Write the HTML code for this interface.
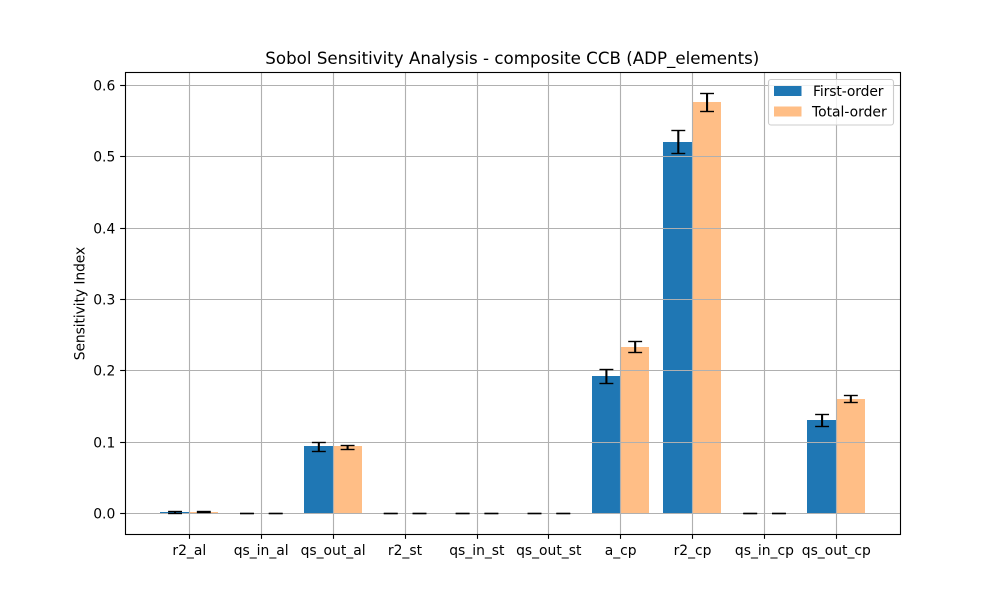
<!DOCTYPE html>
<html><head><meta charset="utf-8"><title>Sobol Sensitivity Analysis</title>
<style>
html,body{margin:0;padding:0;background:#fff;width:1000px;height:600px;overflow:hidden}
svg{display:block}
text{font-family:"DejaVu Sans",sans-serif;fill:#000}
</style></head>
<body>
<svg id="chart" width="1000" height="600" viewBox="0 0 1000 600" xmlns="http://www.w3.org/2000/svg">
<rect x="0" y="0" width="1000" height="600" fill="#fff"/>
<text x="512.3" y="64" font-size="16.67" text-anchor="middle" textLength="494" lengthAdjust="spacing">Sobol Sensitivity Analysis - composite CCB (ADP_elements)</text>
<text transform="translate(84.5,303.5) rotate(-90)" font-size="13.89" text-anchor="middle" textLength="113.5" lengthAdjust="spacing">Sensitivity Index</text>
<g id="grid"></g>
<g id="bars"></g>
<g id="grid-top"></g>
<g id="errs"></g>
<g id="ticks"></g>
<rect x="125.5" y="72.5" width="775" height="462" fill="none" stroke="#000" stroke-width="1.11"/>
<g>
<rect x="768.5" y="79.5" width="125" height="45.5" rx="2.5" ry="2.5" fill="#fff" fill-opacity="0.8" stroke="#ccc" stroke-width="1.11"/>
<rect x="774" y="86" width="27.5" height="10" fill="#1f77b4"/>
<text x="813" y="96" font-size="13.89" textLength="70.5" lengthAdjust="spacing">First-order</text>
<rect x="774" y="106.5" width="27.5" height="10" fill="#ffbe86"/>
<text x="812" y="116.5" font-size="13.89">Total-order</text>
</g>
</svg>
<script>
var categories = ["r2_al","qs_in_al","qs_out_al","r2_st","qs_in_st","qs_out_st","a_cp","r2_cp","qs_in_cp","qs_out_cp"];
var firstOrder = [0.0014,0,0.094,0,0,0,0.192,0.520,0,0.131];
var totalOrder = [0.0016,0,0.094,0,0,0,0.233,0.576,0,0.160];
var firstErrUp = [0.0018,0,0.0055,0,0,0,0.010,0.016,0,0.007];
var firstErrDown = [0.0018,0,0.0075,0,0,0,0.010,0.016,0,0.0095];
var totalErrUp = [0.0006,0,0.0015,0,0,0,0.007,0.012,0,0.0055];
var totalErrDown = [0.0006,0,0.004,0,0,0,0.008,0.014,0,0.005];
var yTicks = [0,0.1,0.2,0.3,0.4,0.5,0.6];
var yTickLabels = ["0.0","0.1","0.2","0.3","0.4","0.5","0.6"];

var NS = "http://www.w3.org/2000/svg";
var L = 125, R = 900, T = 72, B = 534;
var xMin = -0.89, xMax = 9.89, yMin = -0.029, yMax = 0.618;
var barWidth = 0.4;
function xScale(v){ return L + (v - xMin) / (xMax - xMin) * (R - L); }
function yScale(v){ return B - (v - yMin) / (yMax - yMin) * (B - T); }
function snap(p){ return Math.round(p) + 0.5; }
function make(tag, attrs, parent){
  var el = document.createElementNS(NS, tag);
  for (var k in attrs) el.setAttribute(k, attrs[k]);
  parent.appendChild(el);
  return el;
}
var gridG = document.getElementById("grid");
var barsG = document.getElementById("bars");
var gridTop = document.getElementById("grid-top");
var errsG = document.getElementById("errs");
var ticksG = document.getElementById("ticks");

function drawBar(i, offset, value, color, seriesName){
  var x0 = Math.round(xScale(i + offset));
  var x1 = Math.round(xScale(i + offset + barWidth));
  var y0 = Math.round(yScale(value)), yz = Math.round(yScale(0)) + 0.5;
  var r = make("rect", {x:x0, y:Math.min(y0,yz), width:x1-x0, height:Math.abs(yz-y0), fill:color}, barsG);
  
  
}
function drawErr(i, offset, value, up, down, seriesName){
  var cx = xScale(i + offset) + 0.45;
  var yt = Math.floor(yScale(value + up)) + 0.5, yb = Math.floor(yScale(value - down)) + 0.5;
  var g = make("g", {stroke:"#000", fill:"none"}, errsG);
  
  
  make("line", {x1:cx, x2:cx, y1:yt, y2:yb, "stroke-width":2.08}, g);
  make("line", {x1:cx-6.95, x2:cx+6.95, y1:yt, y2:yt, "stroke-width":1.39}, g);
  make("line", {x1:cx-6.95, x2:cx+6.95, y1:yb, y2:yb, "stroke-width":1.39}, g);
}
categories.forEach(function(name, i){
  drawBar(i, -barWidth, firstOrder[i], "#1f77b4", "first-order");
  drawBar(i, 0, totalOrder[i], "#ffbe86", "total-order");

  var px = snap(xScale(i));
  var gl = make("line", {x1:px, x2:px, y1:T, y2:B, stroke:"#b0b0b0", "stroke-width":1.11}, gridTop);
  
  
  var tk = make("line", {x1:px, x2:px, y1:B, y2:B+4.86, stroke:"#000", "stroke-width":1.11}, ticksG);
  
  
  var lb = make("text", {x:xScale(i)+0.3, y:555, "font-size":13.89, "text-anchor":"middle"}, ticksG);
  
  
  lb.textContent = name;

  drawErr(i, -barWidth/2, firstOrder[i], firstErrUp[i], firstErrDown[i], "first-order");
  drawErr(i, barWidth/2, totalOrder[i], totalErrUp[i], totalErrDown[i], "total-order");
});
yTicks.forEach(function(v, i){
  var py = snap(yScale(v));
  var gl = make("line", {x1:L, x2:R, y1:py, y2:py, stroke:"#b0b0b0", "stroke-width":1.11}, gridTop);
  
  
  var tk = make("line", {x1:L-4.86, x2:L, y1:py, y2:py, stroke:"#000", "stroke-width":1.11}, ticksG);
  
  
  var lb = make("text", {x:L-9.7, y:py+5, "font-size":13.89, "text-anchor":"end"}, ticksG);
  
  
  lb.textContent = yTickLabels[i];
});
</script>
</body></html>
